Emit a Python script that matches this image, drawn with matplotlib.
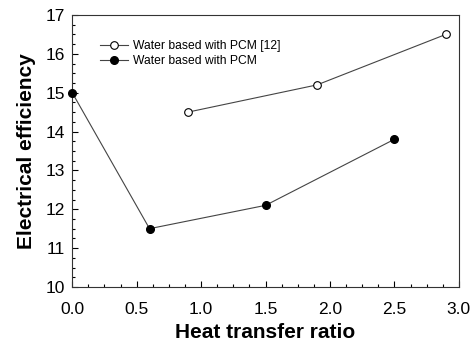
import matplotlib
matplotlib.use("Agg")
import matplotlib.pyplot as plt
from matplotlib.ticker import MultipleLocator

plt.rcParams['font.family'] = ['Liberation Sans', 'DejaVu Sans']

ref_x = [0.9, 1.9, 2.9]
ref_y = [14.5, 15.2, 16.5]
pcm_x = [0.0, 0.6, 1.5, 2.5]
pcm_y = [15.0, 11.5, 12.1, 13.8]

fig = plt.figure(figsize=(4.75, 3.47), dpi=100)
ax = fig.add_axes([0.152, 0.173, 0.814, 0.784])

ax.plot(ref_x, ref_y, color='#444444', lw=0.8, marker='o', ms=5.5,
        mfc='white', mec='black', mew=0.8, label='Water based with PCM [12]', clip_on=False)
ax.plot(pcm_x, pcm_y, color='#444444', lw=0.8, marker='o', ms=5.5,
        mfc='black', mec='black', label='Water based with PCM', clip_on=False, zorder=5)

ax.set_xlim(0, 3)
ax.set_ylim(10, 17)
ax.xaxis.set_major_locator(MultipleLocator(0.5))
ax.xaxis.set_minor_locator(MultipleLocator(0.125))
ax.yaxis.set_major_locator(MultipleLocator(1))
ax.yaxis.set_minor_locator(MultipleLocator(0.25))
ax.xaxis.set_major_formatter(plt.FormatStrFormatter('%.1f'))
ax.tick_params(which='both', direction='in', top=False, right=False, labelsize=12.5, width=0.8)
ax.tick_params(which='major', length=4)
ax.tick_params(which='minor', length=2.5)
ax.tick_params(axis='x', pad=11)
ax.tick_params(axis='y', pad=5)
for s in ax.spines.values():
    s.set_linewidth(0.8)
    s.set_color('#333333')

ax.set_xlabel('Heat transfer ratio', fontsize=15, fontweight='bold', labelpad=4)
ax.set_ylabel('Electrical efficiency', fontsize=15, fontweight='bold', labelpad=7)

ax.legend(loc='upper left', bbox_to_anchor=(0.06, 0.925), frameon=False, fontsize=8.75,
          handlelength=2.3, handletextpad=0.4, labelspacing=0.25, borderaxespad=0)

fig.savefig('out.png', dpi=100)
